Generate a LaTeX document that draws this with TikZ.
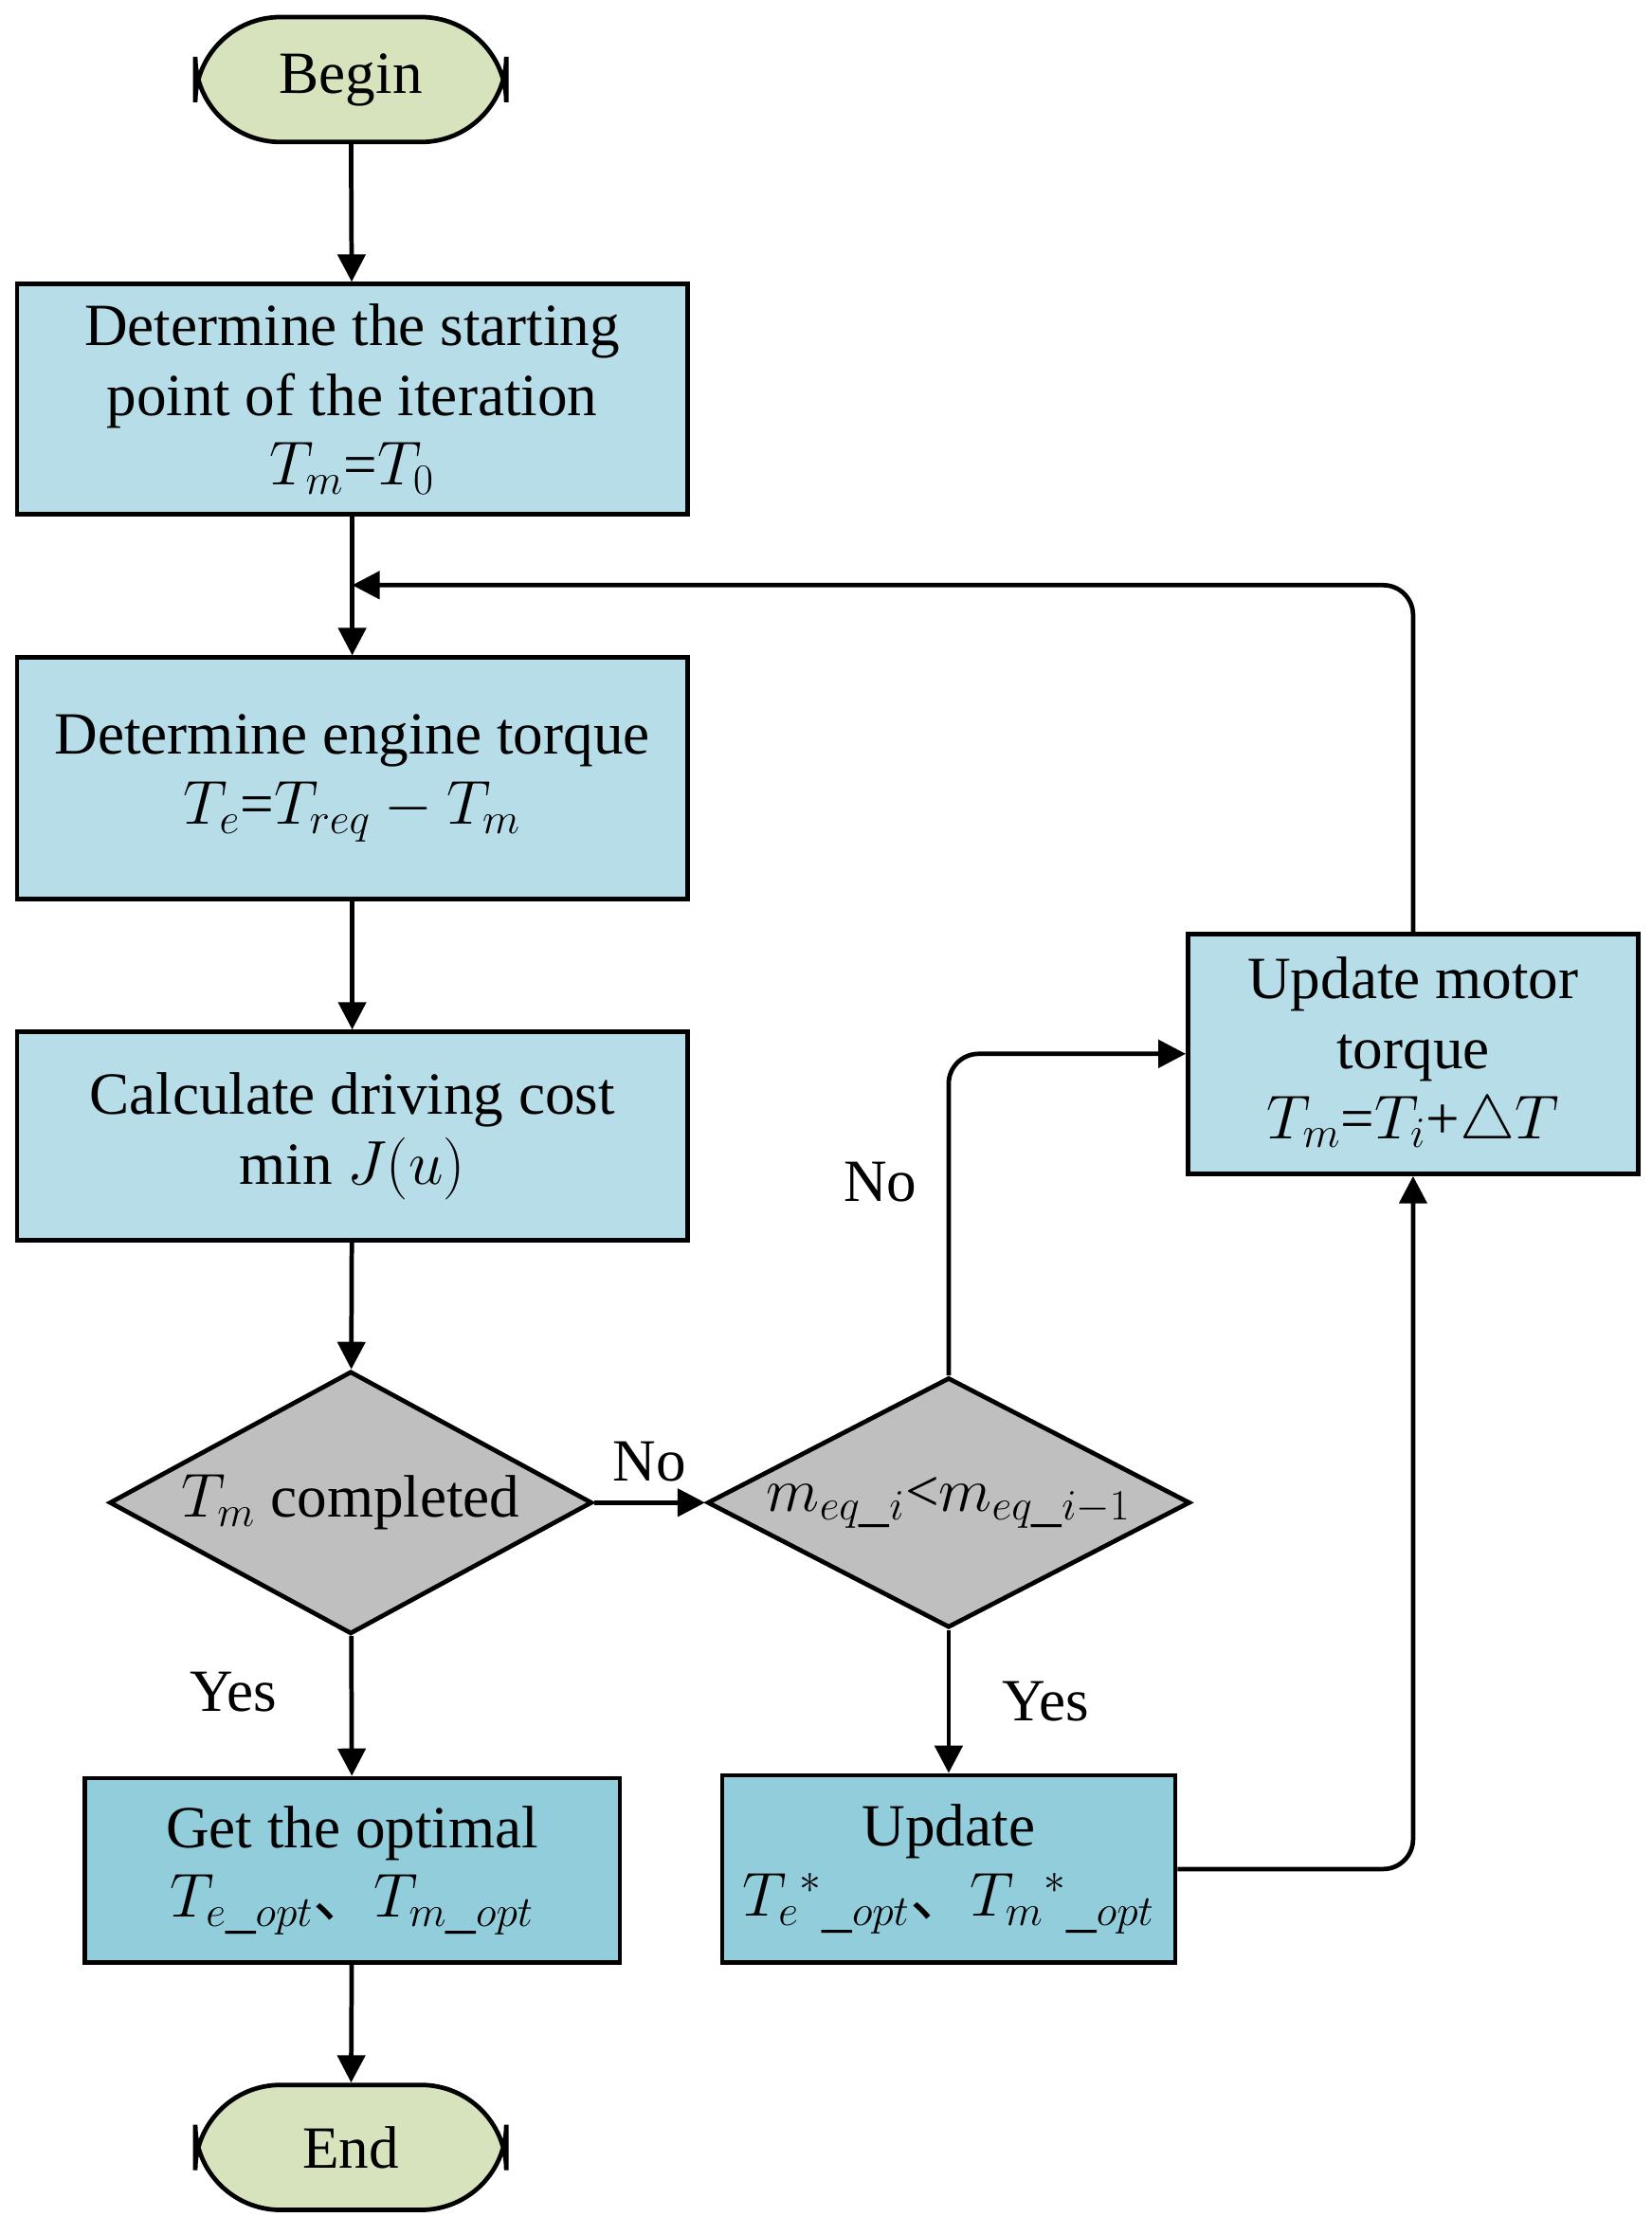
\documentclass[tikz,border=0pt]{standalone}
\usepackage{fontspec}
\setmainfont{Liberation Serif}
\newfontfamily\cjk{Noto Sans CJK SC}
\usetikzlibrary{shapes.geometric,arrows.meta}
\definecolor{termgreen}{RGB}{214,227,188}
\definecolor{boxblue}{RGB}{183,221,232}
\definecolor{boxdark}{RGB}{146,205,220}
\definecolor{diagray}{RGB}{191,191,191}
\tikzset{
  flow/.style={line width=1.8pt,-{Triangle[length=11pt,width=11pt]},rounded corners=12pt},
  term/.style={draw,line width=1.8pt,rounded corners=1.2cm,fill=termgreen,minimum width=4.38cm,minimum height=1.76cm},
  proc/.style={draw,line width=1.8pt,fill=boxblue,align=center,minimum width=9.44cm,inner sep=2pt},
  dec/.style={draw,line width=1.8pt,diamond,fill=diagray,aspect=1.84,minimum width=6.8cm,minimum height=3.7cm,inner sep=0pt},
}
\newcommand{\dun}{{\cjk 、}}
\begin{document}
\begin{tikzpicture}[x=0.02cm,y=-0.02cm,font=\fontsize{24}{28}\selectfont]
\useasboundingbox (0,0) rectangle (1163,1561);
\node[term] (begin) at (247,56) {Begin};
\node[proc,minimum height=3.24cm] (start) at (248,281) {Determine the starting\\point of the iteration\\$T_m$=$T_0$};
\node[proc,minimum height=3.4cm] (engine) at (248,548) {Determine engine torque\\$T_e$=$T_{req}-T_m$};
\node[proc,minimum height=2.94cm] (cost) at (248,800) {Calculate driving cost\\min $J(u)$};
\node[dec] (done) at (247,1058) {$T_m$ completed};
\node[dec,minimum width=6.8cm,minimum height=3.45cm] (cmp) at (668,1058) {$m_{eq\_i}$<$m_{eq\_i-1}$};
\node[proc,fill=boxdark,minimum width=7.54cm,minimum height=2.6cm] (optimal) at (248,1317) {Get the optimal\\$T_{e\_opt}$\dun$T_{m\_opt}$};
\node[proc,fill=boxdark,minimum width=6.38cm,minimum height=2.64cm] (upd) at (668,1316) {Update\\$T_e{}^*{}_{\_opt}$\dun$T_m{}^*{}_{\_opt}$};
\node[proc,minimum width=6.34cm,minimum height=3.38cm] (motor) at (995,742) {Update motor\\torque\\$T_m$=$T_i$+$\triangle T$};
\node[term] (end) at (247,1512) {End};
\coordinate (merge) at (248,412);

\draw[flow] (begin) -- (start);
\draw[flow] (start) -- (engine);
\draw[flow] (engine) -- (cost);
\draw[flow] (cost) -- (done);
\draw[flow] (done) -- node[pos=0.4,left=0.9cm]{Yes} (optimal);
\draw[flow] (optimal) -- (end);
\draw[flow] (done.east) -- node[above=0.15cm]{No} (cmp.west);
\draw[flow] (cmp) -- node[pos=0.5,right=0.6cm]{Yes} (upd);
\draw[flow] (cmp.north) |- node[pos=0.3,left=0.3cm]{No} (motor.west);
\draw[flow] (upd.east) -| (motor.south);
\draw[flow] (motor.north) |- (merge);
\end{tikzpicture}
\end{document}
